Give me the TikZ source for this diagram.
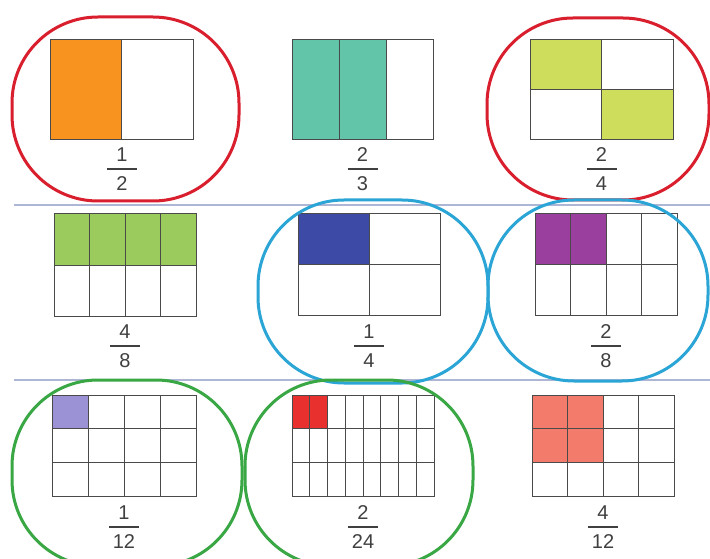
\documentclass[tikz,border=0pt]{standalone}
\usepackage{fontspec}
\setmainfont{Liberation Sans}
\definecolor{cOrange}{HTML}{F7931E}
\definecolor{cTeal}{HTML}{62C4A8}
\definecolor{cLime}{HTML}{CFDD5C}
\definecolor{cGreen}{HTML}{9ACB5C}
\definecolor{cBlue}{HTML}{3E4BA6}
\definecolor{cPurple}{HTML}{9A3F9E}
\definecolor{cLav}{HTML}{9B92D6}
\definecolor{cRed}{HTML}{E8302F}
\definecolor{cSalmon}{HTML}{F27B6B}
\definecolor{lRed}{HTML}{D91F2E}
\definecolor{lBlue}{HTML}{2BA5D5}
\definecolor{lGreen}{HTML}{3AA745}
\definecolor{sepc}{HTML}{AEB6D6}
\definecolor{gridc}{HTML}{4A4A4A}
\definecolor{txtc}{HTML}{404040}
\newcommand\fgrid[6]{%
  \draw[gridsty] (#1,#2) rectangle (#3,#4);
  \pgfmathsetmacro\cw{(#3-#1)/#5}
  \pgfmathsetmacro\rh{(#4-#2)/#6}
  \pgfmathtruncatemacro\cm{#5-1}
  \pgfmathtruncatemacro\rm{#6-1}
  \ifnum\cm>0 \foreach \i in {1,...,\cm} {\draw[gridsty] ({#1+\i*\cw},#2) -- ({#1+\i*\cw},#4);}\fi
  \ifnum\rm>0 \foreach \j in {1,...,\rm} {\draw[gridsty] (#1,{#2+\j*\rh}) -- (#3,{#2+\j*\rh});}\fi
}
\newcommand\fraclab[5]{%
  \node[numsty] (#1n) at (#2,{#3-14}) {#4};
  \node[numsty] (#1d) at (#2,{#3+15}) {#5};
  \coordinate (#1a) at ({#2-15},#3);
  \coordinate (#1b) at ({#2+15},#3);
  \draw[barsty] (#1a) -- (#1b);
}
\begin{document}
\begin{tikzpicture}[x=1pt,y=-1pt,
  gridsty/.style={draw=gridc,line width=1pt},
  numsty/.style={font=\fontsize{20}{20}\selectfont,text=txtc,inner sep=0pt},
  barsty/.style={draw=txtc,line width=1.6pt},
  sepsty/.style={draw=sepc,line width=1.5pt},
  loopsty/.style={line width=3pt,rounded corners=86pt}]
\useasboundingbox (0,0) rectangle (710,559);
\fill[white] (0,0) rectangle (710,559);
% separators
\coordinate (s1a) at (14,205); \coordinate (s1b) at (710,205);
\coordinate (s2a) at (14,380); \coordinate (s2b) at (710,380);
\draw[sepsty] (s1a) -- (s1b);
\draw[sepsty] (s2a) -- (s2b);
% row 1
\fill[cOrange] (50,40) rectangle (121.5,140);
\fgrid{50}{40}{193}{140}{2}{1}
\fill[cTeal] (292,40) rectangle (386,140);
\fgrid{292}{40}{433}{140}{3}{1}
\fill[cLime] (530,40) rectangle (601.5,90);
\fill[cLime] (601.5,90) rectangle (673,140);
\fgrid{530}{40}{673}{140}{2}{2}
% row 2
\fill[cGreen] (54,214) rectangle (196,265);
\fgrid{54}{214}{196}{316}{4}{2}
\fill[cBlue] (298,214) rectangle (369,264.5);
\fgrid{298}{214}{440}{315}{2}{2}
\fill[cPurple] (535,214) rectangle (606,264.5);
\fgrid{535}{214}{677}{315}{4}{2}
% row 3
\fill[cLav] (52,395) rectangle (88,428.67);
\fgrid{52}{395}{196}{496}{4}{3}
\fill[cRed] (292,395) rectangle (327.5,428.67);
\fgrid{292}{395}{434}{496}{8}{3}
\fill[cSalmon] (532,395) rectangle (603,462.33);
\fgrid{532}{395}{674}{496}{4}{3}
% labels
\fraclab{fa}{122}{169}{1}{2}
\fraclab{fb}{362.5}{169}{2}{3}
\fraclab{fc}{601.5}{169}{2}{4}
\fraclab{fd}{125}{346}{4}{8}
\fraclab{fe}{369}{346}{1}{4}
\fraclab{ff}{606}{346}{2}{8}
\fraclab{fg}{124}{527}{1}{12}
\fraclab{fh}{363}{527}{2}{24}
\fraclab{fi}{603}{527}{4}{12}
% loops
\draw[loopsty,draw=lRed] (12,17) rectangle (239,201);
\draw[loopsty,draw=lRed] (487,18) rectangle (709,200);
\draw[loopsty,draw=lBlue] (258,200) rectangle (488,383);
\draw[loopsty,draw=lBlue] (488,200) rectangle (708,381);
\draw[loopsty,draw=lGreen] (12,380) rectangle (242,566);
\draw[loopsty,draw=lGreen] (245,380) rectangle (473,566);
\end{tikzpicture}
\end{document}
